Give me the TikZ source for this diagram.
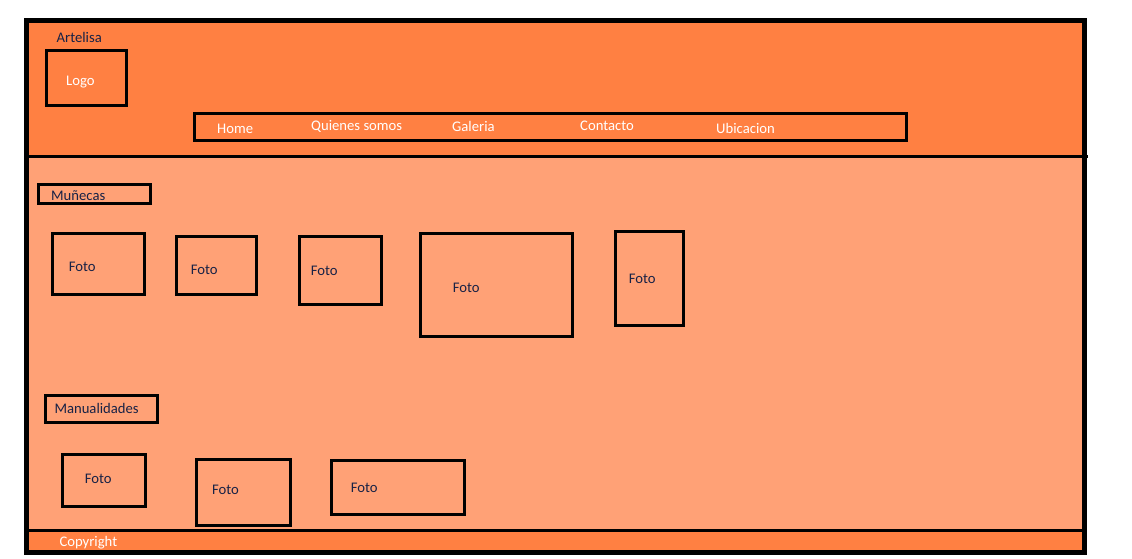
\documentclass[tikz,border=0pt]{standalone}
\usepackage{fontspec}
\setmainfont{Carlito}
\definecolor{hdr}{RGB}{255,128,66}
\definecolor{bdy}{RGB}{255,161,118}
\definecolor{navy}{RGB}{24,34,70}
\begin{document}
\begin{tikzpicture}[x=1pt,y=-1pt,
  box/.style={draw=black,line width=3pt,inner sep=0pt,fill=none},
  lbl/.style={anchor=base west,inner sep=0pt,yshift=-1pt,font=\fontsize{14.67}{16}\selectfont},
  light/.style={lbl,text=white},
  dark/.style={lbl,text=navy}]
\useasboundingbox (0,0) rectangle (1132,558);
% areas
\fill[hdr] (26.5,20.5) rectangle (1084.5,156.5);
\fill[bdy] (26.5,156.5) rectangle (1084.5,530.5);
\fill[hdr] (26.5,530.5) rectangle (1084.5,552.5);
\coordinate (hl) at (26.5,156.5);
\coordinate (hr) at (1088,156.5);
\coordinate (fl) at (26.5,530.5);
\coordinate (fr) at (1084.5,530.5);
\draw[line width=3pt] (hl) -- (hr);
\draw[line width=3pt] (fl) -- (fr);
\draw[line width=5pt] (26.5,20.5) rectangle (1084.5,552.5);
% header
\node[dark] (artelisa) at (56.5,41) {Artelisa};
\node[box,minimum width=79.7pt,minimum height=54.4pt] (logobox) at (86.3,78) {};
\node[light] (logo) at (66,84.5) {Logo};
\node[box,minimum width=711.4pt,minimum height=27pt] (nav) at (550.5,127.3) {};
\node[light] (home) at (217,132.3) {Home};
\node[light] (quienes) at (311,129) {Quienes somos};
\node[light] (galeria) at (452,130.7) {Galeria};
\node[light] (contacto) at (580,129) {Contacto};
\node[light] (ubicacion) at (716,132.3) {Ubicacion};
% Muñecas
\node[box,minimum width=111.4pt,minimum height=19.3pt] (munbox) at (94.5,194.2) {};
\node[dark] (mun) at (51,199) {Muñecas};
\node[box,minimum width=92pt,minimum height=61.3pt] (f1) at (98.5,263.85) {};
\node[dark] (t1) at (68.7,270.7) {Foto};
\node[box,minimum width=79.7pt,minimum height=57.7pt] (f2) at (216.35,265.35) {};
\node[dark] (t2) at (190.7,273.3) {Foto};
\node[box,minimum width=81.7pt,minimum height=67.7pt] (f3) at (340.35,270.35) {};
\node[dark] (t3) at (310.7,274.3) {Foto};
\node[box,minimum width=151.7pt,minimum height=102.4pt] (f4) at (496.65,285) {};
\node[dark] (t4) at (452.7,291) {Foto};
\node[box,minimum width=68pt,minimum height=94pt] (f5) at (649.5,278.5) {};
\node[dark] (t5) at (628.7,282.3) {Foto};
% Manualidades
\node[box,minimum width=111.4pt,minimum height=27pt] (manbox) at (101.5,409.3) {};
\node[dark] (man) at (54.3,412.3) {Manualidades};
\node[box,minimum width=82.4pt,minimum height=51.7pt] (m1) at (104,480.35) {};
\node[dark] (u1) at (84.7,482.7) {Foto};
\node[box,minimum width=93.7pt,minimum height=66pt] (m2) at (243.65,492.8) {};
\node[dark] (u2) at (212,493.7) {Foto};
\node[box,minimum width=132.4pt,minimum height=53.4pt] (m3) at (398,487.5) {};
\node[dark] (u3) at (350.7,491.7) {Foto};
% footer
\node[light] (copy) at (59.3,545) {Copyright};
\end{tikzpicture}
\end{document}
